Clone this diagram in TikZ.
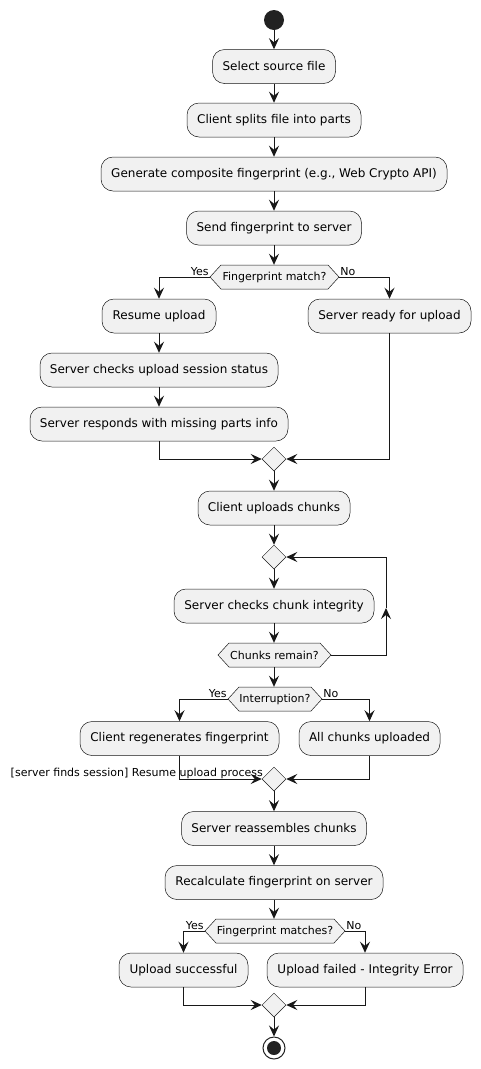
\documentclass[tikz,border=0pt]{standalone}
\usepackage{fontspec}
\setmainfont{DejaVu Sans}
\usetikzlibrary{arrows.meta,shapes.geometric}
\definecolor{boxfill}{HTML}{F1F1F1}
\definecolor{ln}{HTML}{181818}
\definecolor{dot}{HTML}{222222}
\newcommand\hexnode[5]{%
  \path[hex] (#2-#4,#3) -- (#2-#4+11,#3-12) -- (#2+#4-11,#3-12) -- (#2+#4,#3)
    -- (#2+#4-11,#3+12) -- (#2-#4+11,#3+12) -- cycle;
  \node[hext,minimum width={2*#4pt}] (#1) at (#2,#3) {#5};}
\begin{document}
\begin{tikzpicture}[x=1pt,y=-1pt,
  act/.style={draw=ln,line width=0.5pt,fill=boxfill,rounded corners=12pt,
    minimum height=34pt,inner sep=0pt,font=\fontsize{12}{14}\selectfont},
  hex/.style={draw=ln,line width=0.5pt,fill=boxfill},
  hext/.style={inner sep=0pt,minimum height=24pt,font=\fontsize{11}{13}\selectfont},
  dia/.style={diamond,draw=ln,line width=0.5pt,fill=boxfill,minimum width=24pt,
    minimum height=24pt,inner sep=0pt},
  arr/.style={draw=ln,line width=1pt,-{Stealth[length=11pt,width=10pt,inset=4pt]}},
  lbl/.style={font=\fontsize{11}{13}\selectfont,inner sep=1pt},
]
\useasboundingbox (0,0) rectangle (481,1069);
\fill[white] (0,0) rectangle (481,1069);

\node[circle,fill=dot,minimum size=20pt,inner sep=0pt] (start) at (274,20) {};
\node[act,minimum width=123pt] (select) at (274,66.5) {Select source file};
\node[act,minimum width=174pt] (split) at (274,120) {Client splits file into parts};
\node[act,minimum width=346pt] (gen) at (274,174) {Generate composite fingerprint (e.g., Web Crypto API)};
\node[act,minimum width=175pt] (send) at (274,228) {Send fingerprint to server};
\hexnode{dec1}{274.5}{277}{64.5}{Fingerprint match?}
\node[act,minimum width=114pt] (resume) at (159,316) {Resume upload};
\node[act,minimum width=163pt] (ready) at (389.5,316) {Server ready for upload};
\node[act,minimum width=238pt] (status) at (159,370) {Server checks upload session status};
\node[act,minimum width=258pt] (responds) at (159,424) {Server responds with missing parts info};
\node[dia] (m1) at (274,459) {};
\node[act,minimum width=152pt] (uploads) at (274,508) {Client uploads chunks};
\node[dia] (loop) at (274,557) {};
\node[act,minimum width=200pt] (ccheck) at (274,606) {Server checks chunk integrity};
\hexnode{remain}{274.5}{655}{56.5}{Chunks remain?}
\hexnode{intr}{275}{699}{47}{Interruption?}
\node[act,minimum width=199pt] (regen) at (179.5,738.5) {Client regenerates fingerprint};
\node[act,minimum width=141pt] (allch) at (369.5,738.5) {All chunks uploaded};
\node[dia] (m2) at (274,779) {};
\node[act,minimum width=185pt] (reass) at (274,828.5) {Server reassembles chunks};
\node[act,minimum width=218pt] (recalc) at (274,882.5) {Recalculate fingerprint on server};
\hexnode{dec3}{275}{931}{70}{Fingerprint matches?}
\node[act,minimum width=129pt] (succ) at (183.5,970) {Upload successful};
\node[act,minimum width=196pt] (fail) at (365,970) {Upload failed - Integrity Error};
\node[dia] (m3) at (274,1005) {};
\node[circle,draw=dot,line width=1pt,fill=white,minimum size=22pt,inner sep=0pt] (stop) at (274,1048) {};
\node[circle,fill=dot,minimum size=14pt,inner sep=0pt] (stopin) at (stop.center) {};

\draw[arr] (start) -- (select);
\draw[arr] (select) -- (split);
\draw[arr] (split) -- (gen);
\draw[arr] (gen) -- (send);
\draw[arr] (send.south) -- (send.south |- dec1.north);
\draw[arr] (dec1.west) -| (resume.north);
\node[lbl,anchor=south east] (yes1) at (dec1.west) {Yes};
\draw[arr] (dec1.east) -| (ready.north);
\node[lbl,anchor=south west] (no1) at (dec1.east) {No};
\draw[arr] (resume) -- (status);
\draw[arr] (status) -- (responds);
\draw[arr] (responds.south) |- (m1.west);
\draw[arr] (ready.south) |- (m1.east);
\draw[arr] (m1) -- (uploads);
\draw[arr] (uploads) -- (loop);
\draw[arr] (loop) -- (ccheck);
\draw[arr] (ccheck.south) -- (ccheck.south |- remain.north);
\coordinate (lc) at (386,608);
\draw[arr] (remain.east) -| (lc);
\draw[arr] (lc) |- (loop.east);
\draw[arr] (remain.south -| m1) -- (intr.north -| m1);
\draw[arr] (intr.west) -| (regen.north);
\node[lbl,anchor=south east] (yes2) at (intr.west) {Yes};
\draw[arr] (intr.east) -| (allch.north);
\node[lbl,anchor=south west] (no2) at (intr.east) {No};
\draw[arr] (regen.south) |- (m2.west);
\node[lbl,anchor=east,inner sep=0pt] (rlbl) at (263,773) {[server finds session] Resume upload process};
\draw[arr] (allch.south) |- (m2.east);
\draw[arr] (m2) -- (reass);
\draw[arr] (reass) -- (recalc);
\draw[arr] (recalc.south) -- (recalc.south |- dec3.north);
\draw[arr] (dec3.west) -| (succ.north);
\node[lbl,anchor=south east] (yes3) at (dec3.west) {Yes};
\draw[arr] (dec3.east) -| (fail.north);
\node[lbl,anchor=south west] (no3) at (dec3.east) {No};
\draw[arr] (succ.south) |- (m3.west);
\draw[arr] (fail.south) |- (m3.east);
\draw[arr] (m3) -- (stop);
\end{tikzpicture}
\end{document}
